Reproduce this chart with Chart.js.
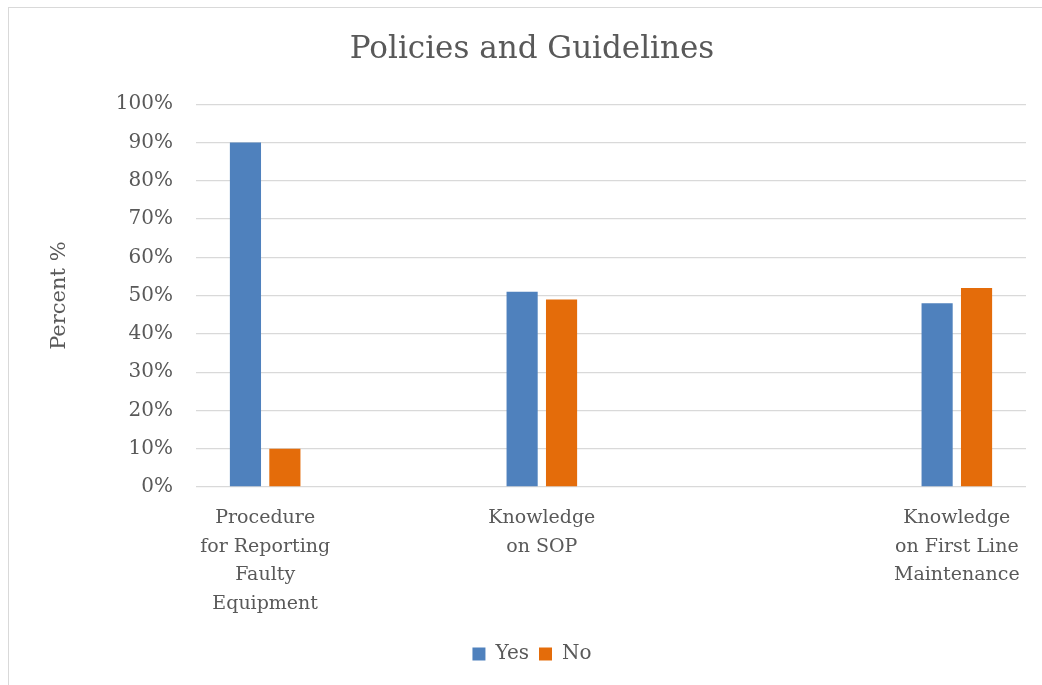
<!DOCTYPE html>
<html>
<head>
<meta charset="utf-8">
<script src="https://cdn.jsdelivr.net/npm/chart.js@4.4.1/dist/chart.umd.min.js"></script>
<style>
  html, body { margin: 0; padding: 0; background: #ffffff; overflow: hidden; }
  #frame { position: absolute; left: 8px; top: 7px; width: 1200px; height: 1000px; border: 1px solid #d9d9d9; box-sizing: border-box; }
  #wrap { position: absolute; left: 0; top: 0; width: 1042px; height: 685px; }
</style>
</head>
<body>
<div id="frame"></div>
<div id="wrap"><canvas id="c" width="1042" height="685"></canvas></div>
<script>
const chartTitle = "Policies and Guidelines";
const yAxisTitle = "Percent %";
const categories = [
  ["Procedure", "for Reporting", "Faulty", "Equipment"],
  "",
  ["Knowledge", "on SOP"],
  "",
  "",
  ["Knowledge", "on First Line", "Maintenance"]
];
const seriesNames = ["Yes", "No"];
const yesValues = [90, null, 51, null, null, 48];
const noValues = [10, null, 49, null, null, 52];
const yTicks = [0, 10, 20, 30, 40, 50, 60, 70, 80, 90, 100];

const FONT = "'DejaVu Serif', 'Liberation Serif', serif";
const TEXT = "#595959";

new Chart(document.getElementById('c'), {
  type: 'bar',
  data: {
    labels: categories,
    datasets: [
      { label: seriesNames[0], data: yesValues, backgroundColor: '#4f81bd', borderWidth: 0 },
      { label: seriesNames[1], data: noValues, backgroundColor: '#e46c0a', borderWidth: 0 }
    ]
  },
  options: {
    responsive: false,
    animation: false,
    devicePixelRatio: 1,
    layout: { padding: { left: 38, right: 16, top: 0, bottom: 11 } },
    categoryPercentage: 0.57,
    barPercentage: 0.79,
    plugins: {
      title: {
        display: true,
        text: chartTitle,
        color: TEXT,
        font: { family: FONT, size: 31, weight: 'normal' },
        padding: { top: 31, bottom: 36 }
      },
      legend: {
        position: 'bottom',
        labels: {
          color: TEXT,
          font: { family: FONT, size: 20 },
          boxWidth: 13,
          boxHeight: 13,
          padding: 10
        }
      },
      tooltip: { enabled: false }
    },
    scales: {
      x: {
        offset: true,
        grid: { display: false, drawTicks: false },
        border: { display: false },
        ticks: {
          color: TEXT,
          font: { family: FONT, size: 19, lineHeight: 1.5 },
          padding: 17,
          maxRotation: 0,
          autoSkip: false
        },
        afterFit: s => { s.height = 147; }
      },
      y: {
        min: 0,
        max: 100,
        afterBuildTicks: s => { s.ticks = yTicks.map(v => ({ value: v })); },
        grid: { color: '#d9d9d9', lineWidth: 1.3, drawTicks: false },
        border: { display: false },
        ticks: {
          color: TEXT,
          font: { family: FONT, size: 20 },
          padding: 23,
          callback: v => v + '%'
        },
        title: {
          display: true,
          text: yAxisTitle,
          color: TEXT,
          font: { family: FONT, size: 21 },
          padding: { top: 9, bottom: 0 }
        },
        afterFit: s => { s.width = 158; }
      }
    }
  }
});
</script>
</body>
</html>
